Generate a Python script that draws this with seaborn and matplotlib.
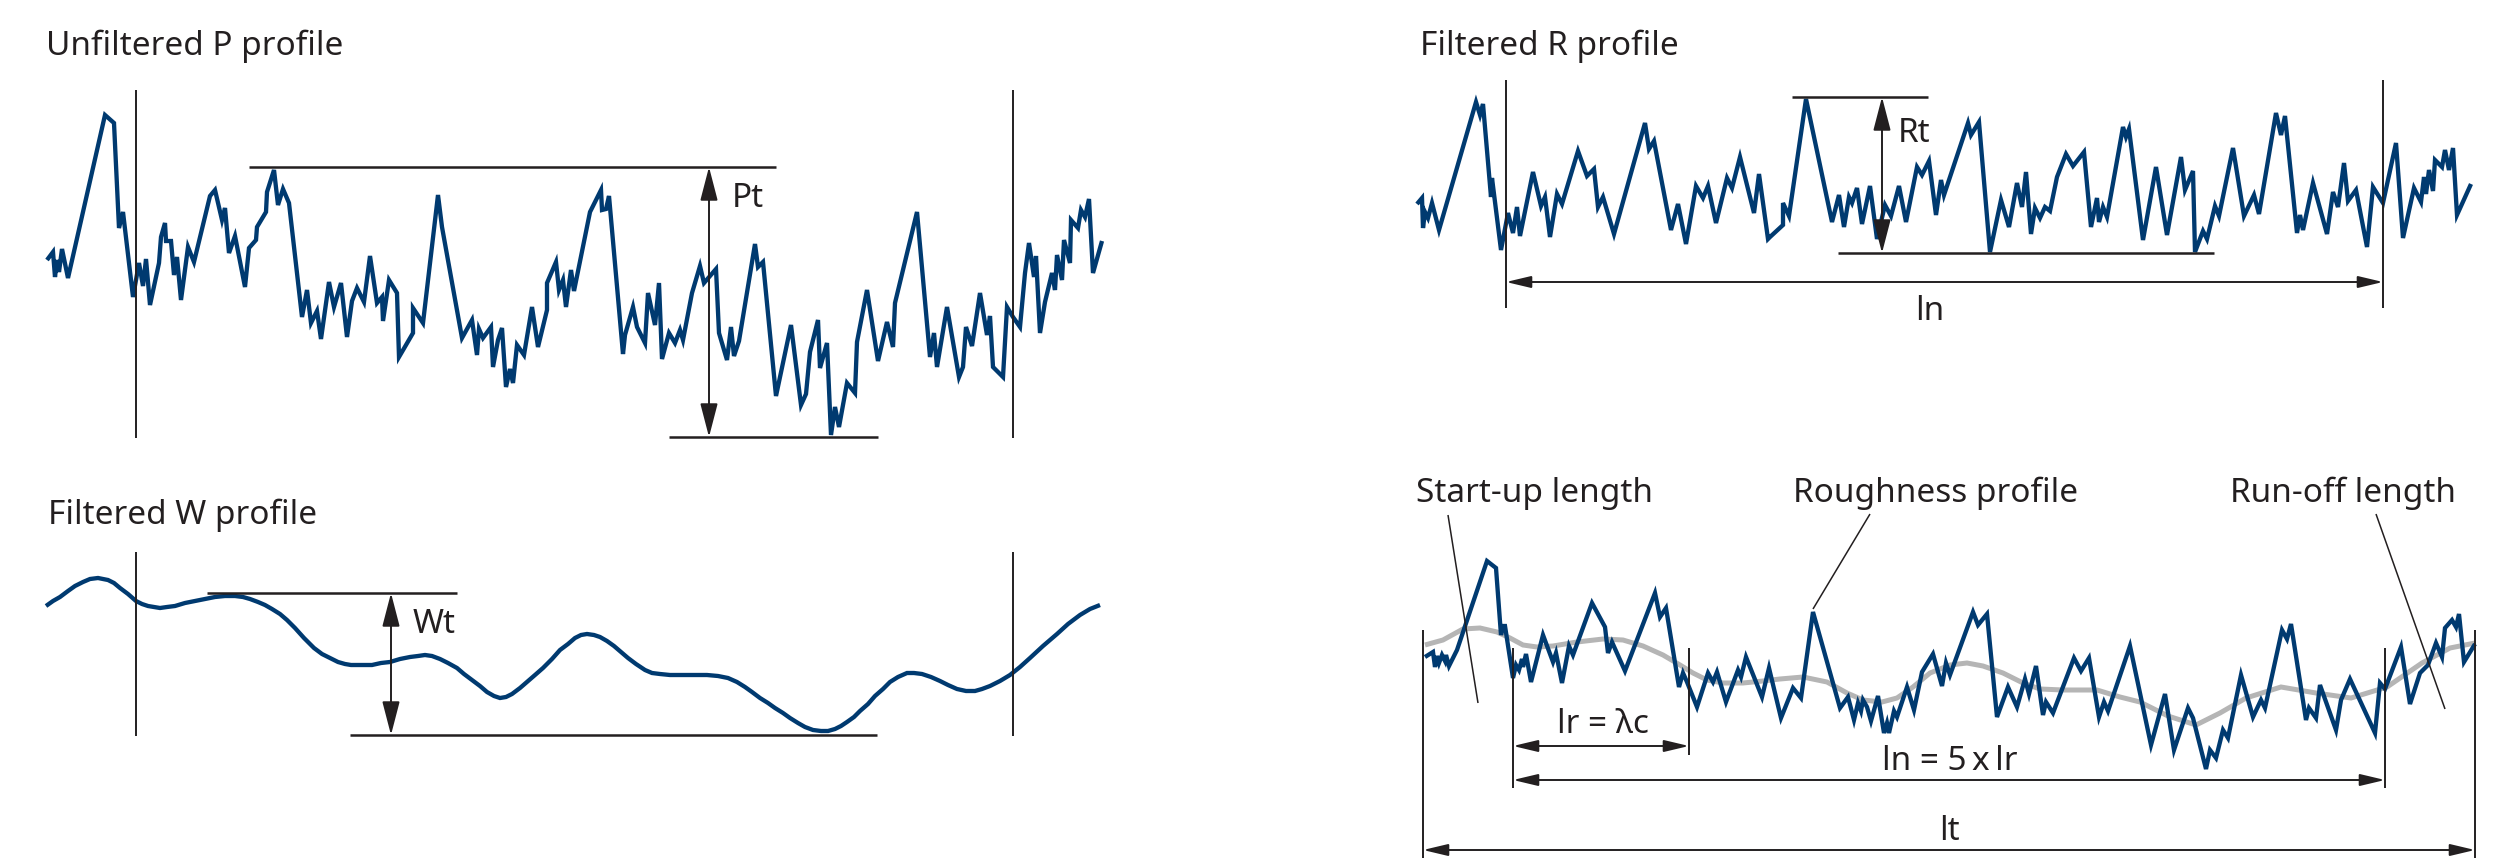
import matplotlib
matplotlib.use("Agg")
import matplotlib.pyplot as plt
import seaborn as sns

# Profile traces (x along the surface, y = image row)
p_x = [47, 53, 55, 57, 59, 62, 68, 105, 114, 119, 123, 133, 139, 143, 146, 150, 159, 161, 165, 166,
       171, 174, 177, 181, 188, 194, 210, 215, 222, 225, 229, 235, 245, 249, 256, 257, 266, 267, 274, 278,
       283, 289, 302, 307, 311, 317, 321, 329, 334, 341, 347, 352, 357, 364, 370, 377, 382, 383, 389, 397,
       399, 413, 413, 423, 438, 442, 462, 472, 477, 479, 483, 491, 493, 498, 502, 506, 510, 513, 517, 524,
       532, 538, 547, 547, 556, 559, 563, 566, 571, 574, 590, 601, 602, 606, 609, 623, 625, 633, 637, 645,
       648, 655, 659, 662, 669, 675, 680, 683, 692, 700, 704, 716, 719, 727, 731, 734, 739, 755, 758, 763,
       776, 791, 801, 806, 810, 818, 820, 827, 831, 835, 839, 847, 855, 857, 867, 878, 887, 893, 895, 917,
       930, 934, 937, 947, 959, 963, 966, 972, 980, 987, 990, 993, 1003, 1007, 1013, 1020, 1025, 1029, 1034, 1036,
       1040, 1045, 1052, 1055, 1057, 1062, 1064, 1070, 1071, 1078, 1081, 1085, 1089, 1093, 1102]
p_y = [260, 252, 277, 260, 272, 249, 278, 115, 123, 228, 212, 297, 263, 286, 259, 305, 263, 237, 223, 241,
       241, 275, 257, 300, 247, 262, 196, 190, 220, 208, 253, 236, 287, 248, 240, 227, 212, 192, 170, 205,
       189, 203, 317, 290, 323, 311, 339, 282, 307, 283, 337, 301, 288, 302, 256, 303, 297, 321, 280, 293,
       357, 333, 308, 323, 195, 227, 338, 320, 355, 329, 338, 327, 367, 340, 328, 387, 369, 383, 345, 355,
       307, 347, 310, 283, 262, 290, 280, 307, 270, 291, 212, 190, 210, 209, 196, 354, 335, 307, 327, 343,
       293, 325, 283, 359, 333, 343, 330, 340, 293, 266, 283, 269, 333, 360, 327, 356, 341, 244, 267, 262,
       396, 325, 405, 394, 352, 320, 368, 343, 435, 407, 427, 383, 393, 342, 290, 361, 322, 347, 303, 212,
       357, 333, 367, 307, 377, 367, 327, 346, 293, 335, 316, 367, 377, 307, 317, 327, 273, 243, 277, 256,
       333, 302, 273, 290, 255, 280, 240, 263, 220, 228, 210, 217, 199, 273, 241]

w_x = [46, 53, 60, 68, 75, 83, 90, 98, 108, 114, 120, 128, 136, 142, 148, 154, 160, 167, 175, 185,
       195, 205, 215, 225, 235, 243, 250, 258, 265, 272, 280, 287, 295, 304, 314, 322, 330, 338, 345, 351,
       357, 364, 372, 381, 390, 400, 410, 418, 425, 432, 440, 448, 457, 464, 472, 480, 487, 494, 500, 506,
       512, 520, 527, 535, 543, 552, 560, 568, 575, 581, 587, 594, 600, 607, 614, 621, 628, 636, 645, 652,
       660, 670, 680, 693, 707, 718, 728, 737, 745, 752, 760, 768, 775, 783, 790, 798, 805, 813, 821, 828,
       835, 841, 847, 854, 860, 868, 875, 883, 890, 898, 907, 914, 922, 931, 940, 948, 957, 966, 975, 982,
       990, 1000, 1010, 1020, 1030, 1043, 1057, 1068, 1080, 1090, 1100]
w_y = [606, 601, 597, 591, 586, 582, 579, 578, 580, 583, 588, 594, 601, 604, 606, 607, 608, 607, 606, 603,
       601, 599, 597, 596, 596, 597, 599, 602, 605, 609, 614, 620, 628, 638, 648, 654, 658, 662, 664, 665,
       665, 665, 665, 663, 662, 659, 657, 656, 655, 656, 659, 663, 668, 674, 680, 686, 692, 696, 698, 697,
       694, 688, 682, 675, 668, 659, 650, 644, 638, 635, 634, 635, 637, 641, 646, 652, 658, 664, 670, 673,
       674, 675, 675, 675, 675, 676, 678, 682, 687, 692, 698, 703, 708, 713, 718, 723, 727, 730, 731, 731,
       729, 726, 722, 717, 711, 704, 696, 689, 682, 677, 673, 673, 674, 677, 681, 685, 689, 691, 691, 689,
       686, 681, 675, 667, 658, 646, 634, 624, 615, 609, 605]

r_x = [1417, 1422, 1423, 1425, 1428, 1432, 1439, 1476, 1480, 1483, 1491, 1492, 1501, 1508, 1513, 1517, 1520, 1533, 1541, 1545,
       1550, 1557, 1562, 1578, 1587, 1594, 1598, 1603, 1614, 1645, 1649, 1654, 1671, 1678, 1686, 1696, 1703, 1708, 1716, 1727,
       1732, 1740, 1754, 1759, 1768, 1770, 1783, 1783, 1789, 1806, 1832, 1839, 1844, 1849, 1852, 1857, 1862, 1870, 1877, 1885,
       1891, 1899, 1906, 1917, 1922, 1929, 1936, 1941, 1944, 1968, 1971, 1979, 1990, 2001, 2009, 2017, 2022, 2026, 2031, 2035,
       2040, 2045, 2050, 2057, 2066, 2073, 2084, 2091, 2097, 2099, 2103, 2107, 2123, 2126, 2129, 2143, 2156, 2167, 2181, 2185,
       2193, 2195, 2203, 2207, 2215, 2219, 2233, 2244, 2254, 2259, 2276, 2281, 2285, 2297, 2300, 2303, 2313, 2327, 2333, 2338,
       2344, 2348, 2356, 2367, 2373, 2383, 2396, 2403, 2414, 2421, 2424, 2426, 2429, 2433, 2435, 2442, 2445, 2449, 2453, 2457,
       2471]
r_y = [204, 198, 228, 212, 218, 203, 230, 102, 115, 104, 197, 178, 250, 213, 233, 207, 236, 172, 206, 197,
       237, 194, 204, 151, 176, 169, 207, 197, 234, 123, 149, 141, 230, 204, 244, 186, 198, 186, 223, 178,
       188, 157, 213, 174, 239, 237, 225, 203, 216, 99, 222, 195, 227, 197, 203, 188, 224, 186, 239, 205,
       216, 186, 222, 167, 175, 161, 215, 180, 195, 123, 135, 122, 252, 200, 227, 183, 207, 172, 234, 208,
       218, 207, 211, 177, 154, 166, 152, 227, 198, 222, 207, 217, 127, 137, 129, 240, 167, 235, 157, 190,
       171, 252, 231, 239, 206, 216, 148, 216, 195, 214, 113, 135, 116, 233, 215, 230, 183, 234, 192, 207,
       163, 201, 190, 247, 187, 203, 143, 238, 188, 202, 177, 194, 170, 191, 160, 167, 150, 170, 148, 215,
       184]

rough_x = [1425, 1433, 1435, 1437, 1439, 1442, 1445, 1446, 1449, 1457, 1487, 1496, 1501, 1503, 1505, 1513, 1516, 1519, 1522, 1523,
           1526, 1531, 1543, 1553, 1556, 1562, 1569, 1573, 1592, 1605, 1608, 1612, 1625, 1655, 1660, 1666, 1679, 1683, 1687, 1697,
           1708, 1713, 1717, 1726, 1738, 1741, 1746, 1762, 1769, 1781, 1793, 1801, 1813, 1840, 1848, 1854, 1858, 1861, 1863, 1867,
           1871, 1878, 1884, 1887, 1889, 1894, 1897, 1907, 1914, 1922, 1933, 1942, 1946, 1950, 1973, 1978, 1987, 1997, 2008, 2017,
           2025, 2029, 2036, 2043, 2046, 2053, 2074, 2081, 2089, 2099, 2104, 2108, 2130, 2151, 2165, 2174, 2188, 2193, 2206, 2210,
           2216, 2223, 2228, 2241, 2253, 2261, 2265, 2282, 2287, 2291, 2306, 2309, 2316, 2320, 2336, 2341, 2350, 2375, 2380, 2385,
           2401, 2410, 2420, 2428, 2436, 2442, 2445, 2452, 2456, 2459, 2464, 2475]
rough_y = [657, 652, 667, 656, 663, 655, 661, 655, 666, 650, 561, 568, 635, 626, 626, 678, 665, 670, 659, 667,
           654, 682, 635, 662, 653, 683, 646, 655, 603, 627, 653, 642, 671, 593, 617, 608, 687, 673, 682, 707,
           673, 682, 672, 702, 670, 677, 657, 697, 668, 718, 688, 698, 612, 708, 697, 720, 703, 711, 700, 707,
           721, 696, 733, 723, 733, 711, 717, 687, 710, 672, 654, 686, 663, 675, 612, 625, 614, 717, 687, 707,
           679, 694, 666, 715, 702, 713, 658, 671, 658, 717, 702, 711, 646, 745, 694, 750, 708, 718, 769, 750,
           758, 730, 738, 675, 717, 700, 708, 630, 639, 624, 720, 708, 718, 685, 730, 700, 679, 733, 683, 689,
           647, 704, 673, 665, 643, 657, 628, 620, 627, 614, 662, 644]

mean_x = [1425, 1443, 1463, 1480, 1497, 1510, 1523, 1537, 1553, 1577, 1603, 1623, 1643, 1663, 1680, 1693, 1707, 1723, 1743, 1763,
          1780, 1803, 1827, 1847, 1863, 1882, 1897, 1913, 1930, 1950, 1967, 1983, 2003, 2023, 2040, 2063, 2097, 2120, 2140, 2168,
          2196, 2220, 2246, 2281, 2316, 2351, 2387, 2422, 2450, 2475]
mean_y = [645, 640, 629, 628, 632, 638, 645, 647, 646, 642, 639, 640, 646, 655, 665, 673, 680, 683, 683, 681,
          679, 677, 682, 693, 700, 702, 698, 687, 673, 665, 663, 666, 673, 683, 689, 690, 690, 697, 702, 716,
          725, 713, 698, 687, 693, 698, 687, 663, 648, 643]

BLUE = "#003a70"
GREY = "#b5b5b5"
INK = "#231f20"

sns.set_theme(style="white")
plt.rcParams["font.family"] = ["Noto Sans", "DejaVu Sans"]

fig = plt.figure(figsize=(25.05, 8.58), dpi=100)
ax = fig.add_axes([0, 0, 1, 1])


def trace(xs, ys, color, lw):
    sns.lineplot(x=xs, y=ys, sort=False, estimator=None, color=color, linewidth=lw,
                 legend=False, ax=ax, solid_joinstyle="miter", solid_capstyle="butt")


def rule(x0, y0, x1, y1, lw=1.4):
    ax.plot([x0, x1], [y0, y1], color=INK, lw=lw, solid_capstyle="butt")


def dim(x0, y0, x1, y1, hl=0.76, hw=0.18):
    ax.annotate("", xy=(x1, y1), xytext=(x0, y0),
                arrowprops=dict(arrowstyle=f"<|-|>,head_length={hl},head_width={hw}",
                                color=INK, lw=1.4, shrinkA=0, shrinkB=0, mutation_scale=20))


def label(x, y, s, ha="left"):
    ax.text(x, y, s, fontsize=24, color=INK, ha=ha, va="baseline")


# --- Unfiltered P profile ---
trace(p_x, p_y, BLUE, 3.1)
rule(136, 90, 136, 438)
rule(1013, 90, 1013, 438)
rule(249, 167, 776, 167, 1.8)
rule(669, 437, 878, 437, 1.8)
dim(709, 167, 709, 437, 1.04, 0.27)
label(732, 207, "Pt")
label(46, 55, "Unfiltered P profile")

# --- Filtered W profile ---
trace(w_x, w_y, BLUE, 3.1)
rule(136, 552, 136, 736)
rule(1013, 552, 1013, 736)
rule(207, 593, 457, 593, 1.8)
rule(350, 735, 877, 735, 1.8)
dim(391, 593, 391, 735, 1.04, 0.27)
label(413, 633, "Wt")
label(48, 524, "Filtered W profile")

# --- Filtered R profile ---
trace(r_x, r_y, BLUE, 3.1)
rule(1506, 80, 1506, 308)
rule(2383, 80, 2383, 308)
rule(1792, 97, 1928, 97, 1.8)
rule(1838, 253, 2214, 253, 1.8)
dim(1882, 97, 1882, 253, 1.04, 0.27)
dim(1506, 282, 2383, 282)
label(1898, 142, "Rt")
label(1930, 320, "ln", ha="center")
label(1420, 55, "Filtered R profile")

# --- Roughness profile with start-up / run-off ---
trace(mean_x, mean_y, GREY, 3.6)
trace(rough_x, rough_y, BLUE, 3.1)
rule(1423, 630, 1423, 858)
rule(2475, 630, 2475, 858)
rule(1513, 648, 1513, 788)
rule(2385, 648, 2385, 788)
rule(1689, 648, 1689, 755)
dim(1513, 746, 1689, 746)
dim(1513, 780, 2385, 780)
dim(1423, 850, 2475, 850)
label(1603, 733, "lr = λc", ha="center")
label(1950, 770, "ln = 5\u2009x\u2009lr", ha="center")
label(1949, 840, "lt", ha="center")
rule(1448, 515, 1478, 703, 1.1)
rule(1870, 514, 1813, 609, 1.1)
rule(2376, 514, 2445, 709, 1.1)
label(1416, 502, "Start-up length")
label(1793, 502, "Roughness profile")
label(2230, 502, "Run-off length")

ax.set_xlim(0, 2505)
ax.set_ylim(858, 0)
ax.axis("off")
fig.savefig("out.png", dpi=100)
